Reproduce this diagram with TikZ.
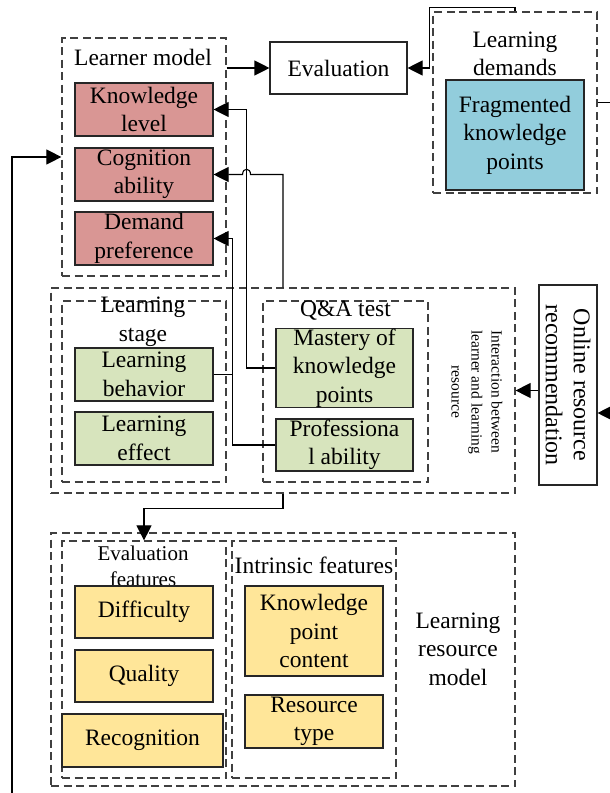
\documentclass[tikz,border=0pt]{standalone}
\usepackage{fontspec}
\setmainfont{Liberation Serif}
\usetikzlibrary{arrows.meta,calc}
\definecolor{pinkc}{HTML}{D99694}
\definecolor{bluec}{HTML}{92CDDC}
\definecolor{greenc}{HTML}{D7E4BD}
\definecolor{yellowc}{HTML}{FFE699}
\definecolor{dashc}{HTML}{404040}
\tikzset{
  grp/.style={draw=dashc, line width=1.2pt, dash pattern=on 8pt off 4.5pt, rectangle, inner sep=0pt},
  item/.style={draw=black!85, line width=1.1pt, rectangle, inner sep=0pt, align=center,
    font=\fontsize{23.5}{28.5}\selectfont},
  ttl/.style={align=center, inner sep=0pt, font=\fontsize{23.5}{28.5}\selectfont},
  arr/.style={line width=1.1pt, -{Triangle[length=15pt,width=15pt]}},
  ln/.style={line width=1.1pt}
}
\begin{document}
\begin{tikzpicture}[x=1pt,y=-1pt]
\useasboundingbox (0,0) rectangle (610,793);
% Learner model
\node[grp, minimum width=164pt, minimum height=238pt] (lmodel) at (144,157) {};
\node[ttl] (lmtitle) at (143,57) {Learner model};
\node[item, fill=pinkc, minimum width=138pt, minimum height=53pt] (klevel) at (144,109.5) {Knowledge\\level};
\node[item, fill=pinkc, minimum width=138pt, minimum height=53pt] (cog) at (144,174.5) {Cognition\\ability};
\node[item, fill=pinkc, minimum width=138pt, minimum height=53pt] (dpref) at (144,238.5) {Demand\\preference};
% Evaluation
\node[item, fill=white, minimum width=137pt, minimum height=52pt] (eval) at (338.5,68) {Evaluation};
% Learning demands
\node[grp, minimum width=164pt, minimum height=181pt] (ldem) at (515,102.5) {};
\node[ttl] (ldtitle) at (515,54) {Learning\\demands};
\node[item, fill=bluec, minimum width=138pt, minimum height=110pt] (frag) at (515,135) {Fragmented\\knowledge\\points};
% Middle
\node[grp, minimum width=464pt, minimum height=205pt] (midbox) at (283,390.5) {};
\node[grp, minimum width=164pt, minimum height=181pt] (lstage) at (144,391.5) {};
\node[ttl] (lstitle) at (143,322) {Learning\\stage};
\node[item, fill=greenc, minimum width=138pt, minimum height=53pt] (lbehav) at (144,374.5) {Learning\\behavior};
\node[item, fill=greenc, minimum width=138pt, minimum height=53pt] (leffect) at (144,438.5) {Learning\\effect};
\node[grp, minimum width=165pt, minimum height=181pt] (qa) at (345.5,391.5) {};
\node[ttl] (qatitle) at (345.5,311) {Q\&A test};
\node[item, fill=greenc, minimum width=137pt, minimum height=78pt] (mastery) at (344.5,368) {Mastery of\\knowledge\\points};
\node[item, fill=greenc, minimum width=137pt, minimum height=52pt] (profab) at (344.5,445) {Professiona\\l ability};
\node[align=center, inner sep=0pt, rotate=-90, font=\fontsize{15.5}{20}\selectfont] (inter) at (477,392) {Interaction between\\learner and learning\\resource};
% Online
\node[item, fill=white, minimum width=58pt, minimum height=200pt] (online) at (568,385) {};
\node[ttl, rotate=-90, font=\fontsize{24}{28}\selectfont] (ontext) at (online.center) {Online resource\\recommendation};
% Bottom
\node[grp, minimum width=464pt, minimum height=253pt] (botbox) at (283,659.5) {};
\node[grp, minimum width=164pt, minimum height=237pt] (evalfeat) at (144,659.5) {};
\node[ttl, font=\fontsize{21}{26}\selectfont] (eftitle) at (143,566) {Evaluation\\features};
\node[item, fill=yellowc, minimum width=138pt, minimum height=52pt] (diff) at (144,612) {Difficulty};
\node[item, fill=yellowc, minimum width=138pt, minimum height=52pt] (qual) at (144,676) {Quality};
\node[item, fill=yellowc, minimum width=161pt, minimum height=53pt] (recog) at (142.5,740.5) {Recognition};
\node[grp, minimum width=164pt, minimum height=237pt] (intr) at (314,659.5) {};
\node[ttl] (iftitle) at (314,565) {Intrinsic features};
\node[item, fill=yellowc, minimum width=138pt, minimum height=90pt] (kpc) at (314,631) {Knowledge\\point\\content};
\node[item, fill=yellowc, minimum width=138pt, minimum height=53pt] (rtype) at (314,721.5) {Resource\\type};
\node[ttl] (lrm) at (458,649) {Learning\\resource\\model};
% Connectors
\draw[arr] (eval.west -| lmodel.east) -- (eval.west);
\draw[arr] (ldem.north) -- ++(0,-4) -| ($(eval.east)+(22,0)$) -- (eval.east);
\coordinate (ldout) at (614,102.5);
\draw[ln] (ldem.east) -- (ldout);
\coordinate (fb) at (12,797);
\draw[arr] (fb) |- (lmodel.west);
\draw[arr] (mastery.west) -| ([xshift=33]klevel.east) -- (klevel.east);
\draw[arr] (midbox.north) -- (midbox.north |- cog.east) -- ([xshift=37]cog.east)
  .. controls +(0,-7) and +(0,-7) .. ([xshift=29]cog.east) -- (cog.east);
\coordinate (jd) at ([xshift=19]dpref.east);
\draw[arr] (profab.west) -| (jd) -- (dpref.east);
\draw[ln] (lbehav.east) -- (lbehav.east -| jd);
\draw[arr] (midbox.south) -- ++(0,15) -| (evalfeat.north);
\draw[arr] (online.west |- midbox.east) -- (midbox.east);
\coordinate (oin) at (614,413);
\draw[arr] (oin) -- (oin -| online.east);
\end{tikzpicture}
\end{document}
